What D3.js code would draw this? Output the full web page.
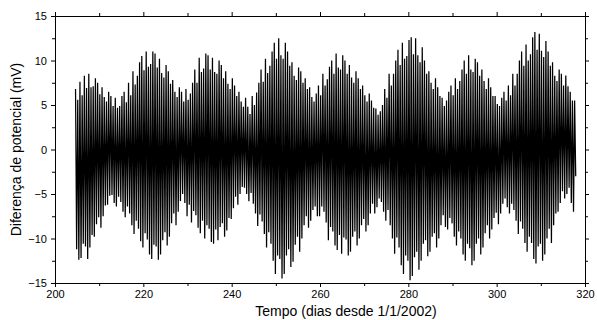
<!DOCTYPE html>
<html>
<head>
<meta charset="utf-8">
<script src="https://cdn.jsdelivr.net/npm/d3@7"></script>
<style>
  body { margin: 0; background: #fff; }
  text { font-family: "Liberation Sans", Arial, sans-serif; }
</style>
</head>
<body>
<div id="chart"></div>
<script>
// Série de diferença de potencial: máximos e mínimos sucessivos (mV), dois de cada por dia
// lidos a partir da figura, a partir do dia 204.65, um extremo a cada 0.25 dia
const startDay = 204.65;
const halfStep = 0.25;

const highs = [
  6.8, 5.6,  7.6, 6.1,  8.3, 6.9,  8.5, 7.0,  7.1, 8.0,  7.5, 6.2,  7.0, 5.9,  5.4, 6.5,   // 205-212
  6.0, 4.9,  5.8, 4.7,  4.9, 6.0,  6.5, 5.3,  7.5, 6.1,  8.8, 7.3,  8.3, 9.8,  10.5, 8.9,  // 213-220
  11.0, 9.3, 9.6, 11.0, 10.8, 9.2, 10.2, 8.6, 8.1, 9.5,  8.8, 7.4,  7.8, 6.5,  5.9, 7.0,   // 221-228
  6.5, 5.4,  6.8, 5.6,  6.3, 7.5,  9.0, 7.5,  10.3, 8.7, 9.1, 10.8, 10.6, 9.0, 10.3, 8.7,  // 229-236
  8.5, 10.0, 9.5, 8.0,  8.8, 7.4,  6.8, 8.0,  7.2, 6.0,  6.5, 5.4,  4.8, 5.8,  4.8, 4.0,   // 237-244
  6.0, 5.0,  6.4, 7.5,  9.0, 7.6,  10.2, 8.6, 9.4, 11.0, 12.0, 10.2, 12.5, 10.6, 10.2, 12.0, // 245-252
  11.0, 9.4, 9.8, 8.3,  7.8, 9.2,  8.8, 7.5,  8.0, 6.8,  7.0, 5.9,  5.4, 6.3,  7.2, 6.1,   // 253-260
  8.5, 7.2,  7.9, 9.3,  10.0, 8.5, 10.8, 9.2, 9.0, 10.6, 10.0, 8.5, 9.5, 8.1,  7.5, 8.8,   // 261-268
  8.0, 6.8,  7.2, 6.1,  5.4, 6.3,  5.5, 4.7,  4.6, 3.9,  4.3, 5.0,  6.8, 5.8,  8.5, 7.2,   // 269-276
  8.5, 10.0, 11.2, 9.5, 12.0, 10.2, 10.5, 12.3, 12.6, 10.7, 12.5, 10.6, 9.8, 11.5, 10.0, 8.5, // 277-284
  8.8, 7.5,  6.8, 8.0,  7.0, 6.0,  5.8, 4.9,  5.5, 6.5,  7.2, 6.1,  8.0, 6.8,  7.7, 9.0,   // 285-292
  10.0, 8.5, 10.6, 9.0, 8.7, 10.2, 9.8, 8.3,  9.0, 7.7,  6.8, 8.0,  7.0, 6.0,  6.0, 5.1,   // 293-300
  4.9, 5.8,  6.5, 5.5,  7.2, 6.1,  8.5, 7.2,  8.5, 10.0, 11.0, 9.4, 11.8, 10.0, 10.7, 12.6, // 301-308
  13.2, 11.2, 13.0, 11.1, 10.4, 12.2, 11.0, 9.4, 9.8, 8.3, 7.7, 9.0, 8.5, 7.2, 8.3, 7.1,  // 309-316
  6.5, 5.5,  5.5                                                                          // 317-318
];

const lows = [
  -11.2, -12.4, -12.2, -10.6, -10.9, -12.3, -11.0, -9.6, -9.8, -8.4, -7.6, -8.8, -7.5, -6.3, -6.2, -5.2,   // 205-212
  -5.1, -6.0, -6.4, -5.3, -5.9, -7.0, -7.6, -6.4, -7.2, -8.5, -9.5, -8.0, -8.9, -10.3, -11.0, -9.4,        // 213-220
  -10.1, -11.8, -12.3, -10.7, -10.9, -12.4, -11.8, -10.2, -9.3, -10.8, -9.8, -8.3, -7.2, -8.5, -7.0, -5.8, // 221-228
  -5.0, -6.0, -7.5, -6.2, -8.2, -6.9, -7.4, -8.8, -9.4, -8.0, -10.0, -8.5, -8.9, -10.4, -10.6, -9.0,       // 229-236
  -10.2, -8.7, -8.3, -9.8, -9.1, -7.7, -7.8, -6.6, -5.3, -6.2, -5.0, -4.2, -4.3, -5.0, -5.8, -4.9,         // 237-244
  -6.1, -7.2, -8.6, -7.3, -8.1, -9.5, -11.0, -9.3, -10.6, -12.5, -14.0, -11.9, -12.3, -14.5, -14.0, -11.9, // 245-252
  -11.2, -13.2, -12.6, -10.7, -9.8, -11.5, -10.0, -8.5, -7.5, -8.8, -8.0, -6.8, -6.4, -7.5, -7.5, -6.4,   // 253-260
  -7.0, -8.2, -10.2, -8.7, -9.2, -10.8, -11.3, -9.6, -11.7, -9.9, -10.1, -11.9, -11.5, -9.8, -9.2, -10.8, // 261-268
  -10.0, -8.5, -7.8, -9.2, -8.5, -7.2, -6.1, -7.2, -6.5, -5.5, -5.9, -7.0, -8.0, -6.8, -8.5, -10.0,        // 269-276
  -11.7, -9.9, -11.0, -13.0, -14.0, -11.9, -12.5, -14.7, -14.2, -12.1, -11.5, -13.5, -12.5, -10.6, -10.2, -12.0, // 277-284
  -11.5, -9.8, -9.4, -11.0, -10.0, -8.5, -7.4, -8.7, -9.0, -7.7, -8.3, -9.8, -10.8, -9.2, -10.0, -11.8,    // 285-292
  -12.5, -10.6, -11.1, -13.0, -12.5, -10.6, -10.0, -11.8, -11.0, -9.4, -8.5, -10.0, -9.0, -7.7, -7.1, -8.4, // 293-300
  -7.2, -6.1, -5.5, -6.5, -7.2, -6.1, -6.8, -8.0, -9.5, -8.1, -8.9, -10.5, -11.5, -9.8, -10.5, -12.3,     // 301-308
  -12.8, -10.9, -10.6, -12.5, -11.8, -10.0, -8.9, -10.5, -8.5, -7.2, -7.0, -6.0, -4.7, -5.5, -5.0, -4.3,   // 309-316
  -6.0, -7.0, -3.0                                                                                        // 317-318
];

const xTicks = [200, 220, 240, 260, 280, 300, 320];
const yTicks = [-15, -10, -5, 0, 5, 10, 15];

// montar a série alternando máximos e mínimos
const data = [];
highs.forEach(function(h, i) {
  data.push({t: startDay + 2 * i * halfStep, v: h});
  if (i < lows.length) data.push({t: startDay + (2 * i + 1) * halfStep, v: lows[i]});
});

// Dimensões e margens
var margin = {top: 16, right: 12, bottom: 37, left: 55},
  width = 597 - margin.left - margin.right,
  height = 320 - margin.top - margin.bottom;

var svg = d3.select("#chart")
  .append("svg")
  .attr("width", 597)
  .attr("height", 320)
  .append("g")
  .attr("transform", "translate(" + margin.left + "," + margin.top + ")");

var x = d3.scaleLinear().domain([200, 320]).range([0, width]);
var y = d3.scaleLinear().domain([-15, 15]).range([height, 0]);

// linha
svg.append("path")
  .datum(data)
  .attr("fill", "none")
  .attr("stroke", "#000")
  .attr("stroke-width", 1.25)
  .attr("stroke-linejoin", "miter")
  .attr("d", d3.line()
    .x(function(d) { return x(d.t); })
    .y(function(d) { return y(d.v); })
  );

// eixos: marcas para fora nos quatro lados
function styleAxis(g) {
  g.selectAll("path").attr("stroke", "#000");
  g.selectAll("line").attr("stroke", "#000");
  g.selectAll("text").attr("fill", "#000").style("font-size", "11px");
}
var xMinor = d3.range(210, 320, 20);
var yMinor = d3.range(-12.5, 15, 5);

svg.append("g")
  .attr("transform", "translate(0," + height + ")")
  .call(d3.axisBottom(x).tickValues(xTicks).tickSize(4).tickSizeOuter(0).tickPadding(3))
  .call(styleAxis);
svg.append("g")
  .attr("transform", "translate(0," + height + ")")
  .call(d3.axisBottom(x).tickValues(xMinor).tickSize(3).tickSizeOuter(0).tickFormat(""))
  .call(styleAxis);
svg.append("g")
  .call(d3.axisTop(x).tickValues(xTicks).tickSize(4).tickSizeOuter(0).tickFormat(""))
  .call(styleAxis);
svg.append("g")
  .call(d3.axisTop(x).tickValues(xMinor).tickSize(3).tickSizeOuter(0).tickFormat(""))
  .call(styleAxis);

svg.append("g")
  .call(d3.axisLeft(y).tickValues(yTicks).tickSize(4).tickSizeOuter(0).tickPadding(4))
  .call(styleAxis);
svg.append("g")
  .call(d3.axisLeft(y).tickValues(yMinor).tickSize(3).tickSizeOuter(0).tickFormat(""))
  .call(styleAxis);
svg.append("g")
  .attr("transform", "translate(" + width + ",0)")
  .call(d3.axisRight(y).tickValues(yTicks).tickSize(4).tickSizeOuter(0).tickFormat(""))
  .call(styleAxis);
svg.append("g")
  .attr("transform", "translate(" + width + ",0)")
  .call(d3.axisRight(y).tickValues(yMinor).tickSize(3).tickSizeOuter(0).tickFormat(""))
  .call(styleAxis);

// títulos dos eixos
svg.append("text")
  .attr("x", 346 - margin.left)
  .attr("y", height + 33)
  .attr("text-anchor", "middle")
  .style("font-size", "14px")
  .text("Tempo (dias desde 1/1/2002)");

svg.append("text")
  .attr("transform", "rotate(-90)")
  .attr("x", -height / 2)
  .attr("y", 21 - margin.left)
  .attr("text-anchor", "middle")
  .style("font-size", "14px")
  .text("Diferença de potencial (mV)");
</script>
</body>
</html>
